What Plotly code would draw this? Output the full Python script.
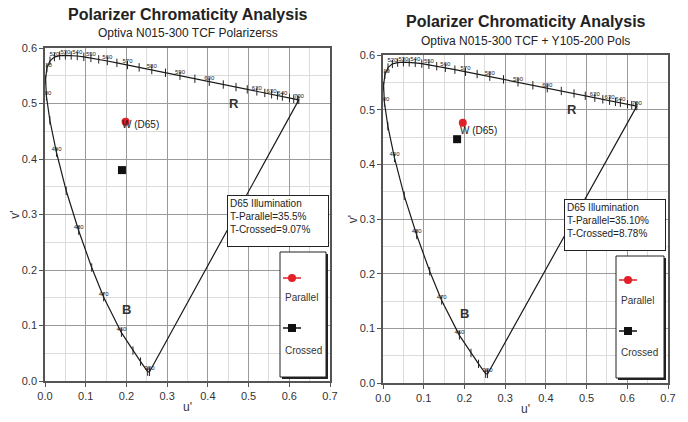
import plotly.graph_objects as go

# CIE 1976 u'v' spectral locus (2 deg observer)
wl = [380, 420, 440, 450, 460, 470, 475, 480, 485, 490, 495, 500, 505, 510, 515,
      520, 525, 530, 535, 540, 545, 550, 555, 560, 565, 570, 575, 580, 585, 590,
      595, 600, 605, 610, 615, 620, 625, 630, 635, 640, 650, 660, 680, 700]
locus_u = [0.2568, 0.2522, 0.2347, 0.2161, 0.1877, 0.1441, 0.1147, 0.0828, 0.0521, 0.0282,
           0.0119, 0.0035, 0.0014, 0.0046, 0.0123, 0.0231, 0.0360, 0.0501, 0.0643, 0.0792,
           0.0953, 0.1127, 0.1319, 0.1531, 0.1766, 0.2026, 0.2312, 0.2623, 0.2960, 0.3315,
           0.3681, 0.4035, 0.4379, 0.4692, 0.4968, 0.5203, 0.5399, 0.5565, 0.5709, 0.5830,
           0.6005, 0.6109, 0.6199, 0.6234]
locus_v = [0.0166, 0.0169, 0.0350, 0.0549, 0.0871, 0.1510, 0.2044, 0.2708, 0.3427, 0.4117,
           0.4698, 0.5131, 0.5432, 0.5638, 0.5770, 0.5837, 0.5861, 0.5868, 0.5865, 0.5856,
           0.5841, 0.5821, 0.5796, 0.5766, 0.5732, 0.5694, 0.5651, 0.5604, 0.5554, 0.5501,
           0.5446, 0.5393, 0.5342, 0.5296, 0.5254, 0.5219, 0.5190, 0.5165, 0.5143, 0.5125,
           0.5099, 0.5084, 0.5070, 0.5065]
label_wl = [380, 460, 470, 480, 490, 500, 510, 520, 530, 540, 550, 560, 570, 580, 590,
            600, 620, 630, 640, 700]

titles = ["Polarizer Chromaticity Analysis", "Polarizer Chromaticity Analysis"]
subtitles = ["Optiva N015-300 TCF Polarizerss", "Optiva N015-300 TCF + Y105-200 Pols"]
parallel_u = [0.198, 0.196]
parallel_v = [0.467, 0.476]
crossed_u = [0.189, 0.182]
crossed_v = [0.380, 0.446]
t_parallel = ["35.5%", "35.10%"]
t_crossed = ["9.07%", "8.78%"]
white_u, white_v = 0.1978, 0.462
region_labels = ["R", "B"]
region_u = [0.465, 0.200]
region_v = [0.500, 0.128]

FONT = "Liberation Sans, Arial, sans-serif"
W_PX, H_PX = 688, 422
# plot areas in pixels: (left, right, top, bottom)
areas = [(45, 330, 48, 381), (383, 668, 55, 383)]
title_y = [(15, 33), (22, 41)]
legend_px = [dict(top=252, bottom=377, left=280, right=326, red=278, par=297, blk=328, cro=350),
             dict(top=256, bottom=378, left=616, right=664, red=280, par=300, blk=331, cro=352)]
note_px = [(227, 195), (564, 199)]

fig = go.Figure()
shapes = []
annotations = []

lab_idx = [i for i, w in enumerate(wl) if w in label_wl]

for p in range(2):
    L, R, T, B = areas[p]
    xa = "x" if p == 0 else "x2"
    ya = "y" if p == 0 else "y2"
    xd = xa + " domain"
    yd = ya + " domain"
    pw, ph = R - L, B - T

    def dx(px):
        return (px - L) / pw

    def dy(py):
        return (B - py) / ph

    # spectral locus, closed by the purple line
    fig.add_trace(go.Scatter(
        x=locus_u + [locus_u[0]], y=locus_v + [locus_v[0]], xaxis=xa, yaxis=ya,
        mode="lines", line=dict(color="#1a1a1a", width=1.2), showlegend=False, hoverinfo="skip"))
    fig.add_trace(go.Scatter(
        x=locus_u, y=locus_v, xaxis=xa, yaxis=ya, mode="markers",
        marker=dict(symbol="line-ns", size=6, line=dict(color="#222", width=1)),
        showlegend=False, hoverinfo="skip"))
    fig.add_trace(go.Scatter(
        x=[locus_u[i] for i in lab_idx], y=[locus_v[i] for i in lab_idx],
        text=[str(wl[i]) for i in lab_idx], xaxis=xa, yaxis=ya, mode="text",
        textposition="top center", textfont=dict(family=FONT, size=6, color="#222"),
        showlegend=False, hoverinfo="skip"))

    # white point label
    annotations.append(dict(x=white_u, y=white_v, xref=xa, yref=ya, text="W (D65)",
                            showarrow=False, xanchor="left", xshift=-6,
                            font=dict(family=FONT, size=10, color="#1a1a1a")))
    for t, u, v in zip(region_labels, region_u, region_v):
        annotations.append(dict(x=u, y=v, xref=xa, yref=ya, text="<b>%s</b>" % t,
                                showarrow=False, font=dict(family=FONT, size=13, color="#333")))

    fig.add_trace(go.Scatter(x=[crossed_u[p]], y=[crossed_v[p]], xaxis=xa, yaxis=ya,
                             mode="markers", name="Crossed",
                             marker=dict(symbol="square", size=8, color="#111"),
                             showlegend=False))
    fig.add_trace(go.Scatter(x=[parallel_u[p]], y=[parallel_v[p]], xaxis=xa, yaxis=ya,
                             mode="markers", name="Parallel",
                             marker=dict(symbol="circle", size=8, color="#e32028"),
                             showlegend=False))

    # titles
    cx = (L + R) / 2 / W_PX
    annotations.append(dict(x=cx, y=1 - title_y[p][0] / H_PX, xref="paper", yref="paper",
                            text="<b>%s</b>" % titles[p], showarrow=False,
                            xanchor="center", yanchor="middle",
                            font=dict(family=FONT, size=16, color="#222")))
    annotations.append(dict(x=cx, y=1 - title_y[p][1] / H_PX, xref="paper", yref="paper",
                            text=subtitles[p], showarrow=False,
                            xanchor="center", yanchor="middle",
                            font=dict(family=FONT, size=12, color="#222")))

    # info box
    nx, ny = note_px[p]
    annotations.append(dict(x=dx(nx), y=dy(ny), xref=xd, yref=yd, xanchor="left", yanchor="top",
                            text="D65 Illumination<br>T-Parallel=%s<br>T-Crossed=%s" % (t_parallel[p], t_crossed[p]),
                            align="left", valign="top", showarrow=False, width=96, height=46,
                            bgcolor="white", bordercolor="#222", borderwidth=1, borderpad=2,
                            font=dict(family=FONT, size=10, color="#222")))

    # custom legend
    g = legend_px[p]
    shapes.append(dict(type="rect", xref=xd, yref=yd, x0=dx(g["left"] + 2), x1=dx(g["right"] + 2),
                       y0=dy(g["bottom"] + 2), y1=dy(g["top"] + 2), fillcolor="#222",
                       line=dict(width=0), layer="above"))
    shapes.append(dict(type="rect", xref=xd, yref=yd, x0=dx(g["left"]), x1=dx(g["right"]),
                       y0=dy(g["bottom"]), y1=dy(g["top"]), fillcolor="white",
                       line=dict(color="#222", width=1), layer="above"))
    lx0, lx1 = g["left"] + 3, g["left"] + 21
    mx = (lx0 + lx1) / 2
    shapes.append(dict(type="line", xref=xd, yref=yd, x0=dx(lx0), x1=dx(lx1),
                       y0=dy(g["red"]), y1=dy(g["red"]), line=dict(color="#e32028", width=1.5),
                       layer="above"))
    shapes.append(dict(type="circle", xref=xd, yref=yd, x0=dx(mx - 4), x1=dx(mx + 4),
                       y0=dy(g["red"] + 4), y1=dy(g["red"] - 4), fillcolor="#e32028",
                       line=dict(width=0), layer="above"))
    shapes.append(dict(type="line", xref=xd, yref=yd, x0=dx(lx0), x1=dx(lx1),
                       y0=dy(g["blk"]), y1=dy(g["blk"]), line=dict(color="#111", width=1.5),
                       layer="above"))
    shapes.append(dict(type="rect", xref=xd, yref=yd, x0=dx(mx - 4), x1=dx(mx + 4),
                       y0=dy(g["blk"] + 4), y1=dy(g["blk"] - 4), fillcolor="#111",
                       line=dict(width=0), layer="above"))
    annotations.append(dict(x=dx(g["left"] + 3), y=dy(g["par"]), xref=xd, yref=yd,
                            xanchor="left", yanchor="middle", text="Parallel", showarrow=False,
                            font=dict(family=FONT, size=10, color="#333")))
    annotations.append(dict(x=dx(g["left"] + 3), y=dy(g["cro"]), xref=xd, yref=yd,
                            xanchor="left", yanchor="middle", text="Crossed", showarrow=False,
                            font=dict(family=FONT, size=10, color="#333")))

axis_common = dict(showgrid=True, gridcolor="#9a9a9a", gridwidth=1, zeroline=False,
                   showline=True, mirror=True, linecolor="#555", linewidth=1.5,
                   ticks="outside", ticklen=4, tickcolor="#555", tickformat=".1f",
                   dtick=0.1, tick0=0, automargin=False,
                   minor=dict(dtick=0.05, showgrid=True, gridcolor="#dcdcdc"),
                   tickfont=dict(family=FONT, size=11, color="#333"))

def xdom(i):
    return [areas[i][0] / W_PX, areas[i][1] / W_PX]

def ydom(i):
    return [1 - areas[i][3] / H_PX, 1 - areas[i][2] / H_PX]

fig.update_layout(
    width=W_PX, height=H_PX, margin=dict(l=0, r=0, t=0, b=0),
    paper_bgcolor="white", plot_bgcolor="white", showlegend=False,
    xaxis=dict(axis_common, domain=xdom(0), range=[0, 0.7], anchor="y",
               title=dict(text="u'", standoff=2, font=dict(family=FONT, size=12, color="#333"))),
    yaxis=dict(axis_common, domain=ydom(0), range=[0, 0.6], anchor="x",
               title=dict(text="v'", standoff=0, font=dict(family=FONT, size=12, color="#333"))),
    xaxis2=dict(axis_common, domain=xdom(1), range=[0, 0.7], anchor="y2",
                title=dict(text="u'", standoff=2, font=dict(family=FONT, size=12, color="#333"))),
    yaxis2=dict(axis_common, domain=ydom(1), range=[0, 0.6], anchor="x2",
                title=dict(text="v'", standoff=0, font=dict(family=FONT, size=12, color="#333"))),
    shapes=shapes, annotations=annotations,
)

fig.write_html("out.html")
